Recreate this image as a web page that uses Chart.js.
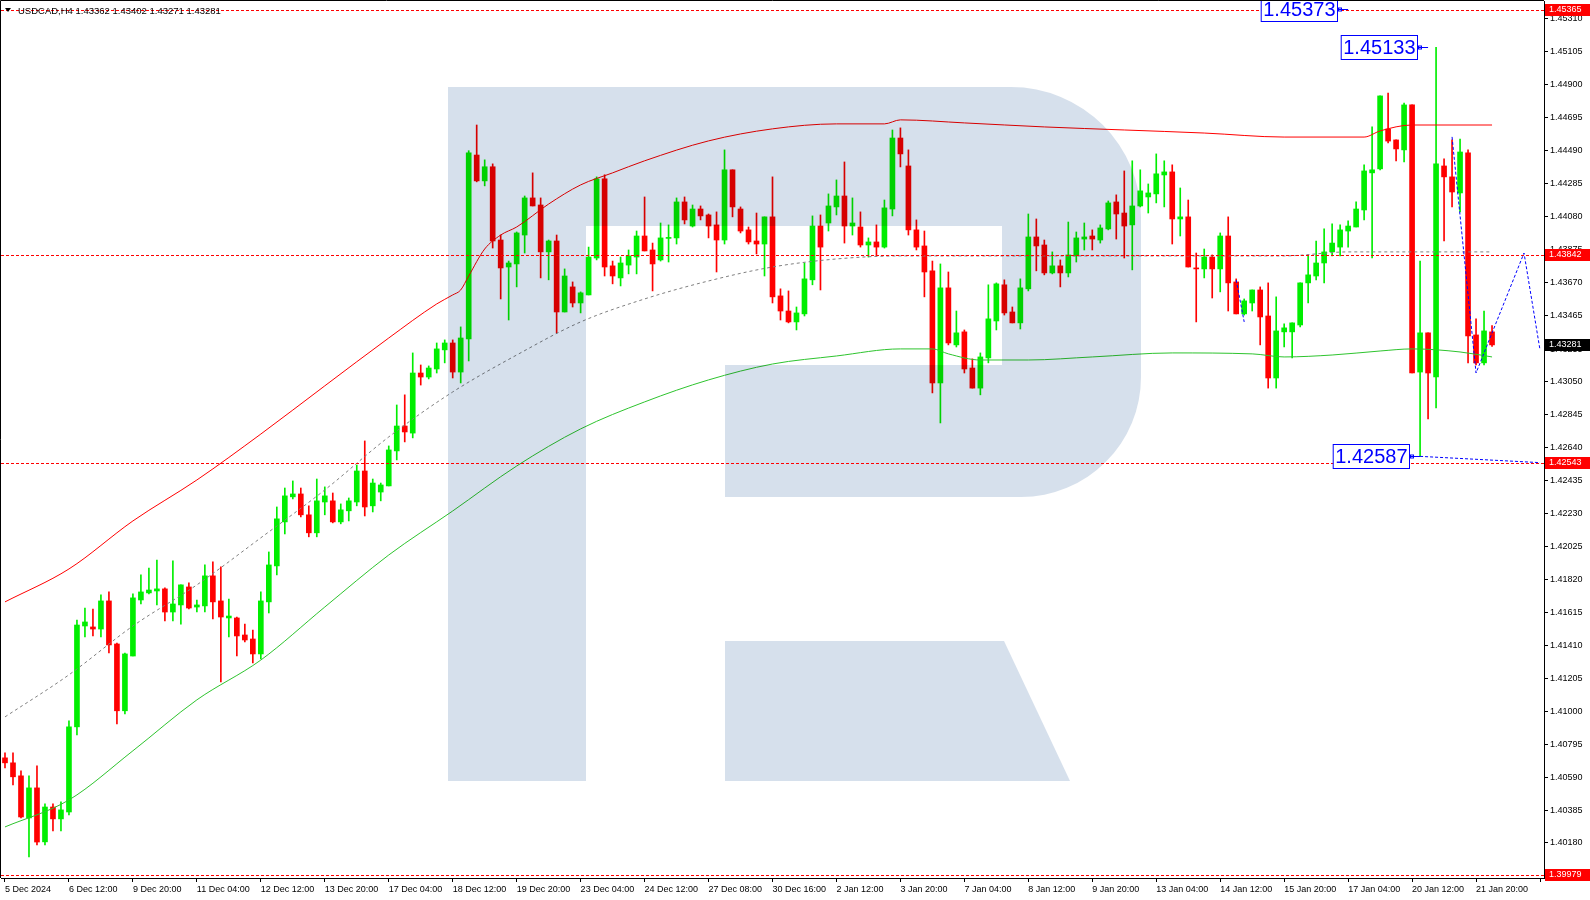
<!DOCTYPE html>
<html>
<head>
<meta charset="utf-8">
<script src="https://cdn.jsdelivr.net/npm/chart.js@4"></script>
<style>
  html, body { margin: 0; padding: 0; background: #fff; }
  canvas { display: block; }
</style>
</head>
<body>
<canvas id="myChart" width="1590" height="900"></canvas>
<script>
// USDCAD H4 – candles
var opens = [1.40710,1.40679,1.40598,1.40336,1.40523,1.40187,1.40404,1.40330,1.40373,1.40903,1.41531,1.41525,1.41512,1.41687,1.41419,1.41003,1.41344,1.41693,1.41737,1.41749,1.41762,1.41618,1.41662,1.41774,1.41649,1.41656,1.41843,1.41687,1.41581,1.41581,1.41475,1.41450,1.41357,1.41681,1.41905,1.42179,1.42335,1.42353,1.42223,1.42111,1.42303,1.42310,1.42179,1.42248,1.42303,1.42496,1.42279,1.42365,1.42403,1.42621,1.42776,1.42732,1.43106,1.43081,1.43131,1.43250,1.43293,1.43112,1.43318,1.44463,1.44302,1.44390,1.43934,1.43766,1.43785,1.43965,1.44196,1.44152,1.43860,1.43928,1.43486,1.43642,1.43542,1.43592,1.43822,1.44315,1.43773,1.43698,1.43778,1.43828,1.43959,1.43872,1.43810,1.43944,1.43947,1.44171,1.44021,1.44127,1.44090,1.44028,1.43934,1.44371,1.44127,1.43997,1.43928,1.43909,1.44078,1.43586,1.43492,1.43424,1.43474,1.43686,1.44021,1.44040,1.44140,1.44208,1.44021,1.44015,1.43903,1.43922,1.43890,1.44127,1.44569,1.44395,1.43997,1.43897,1.43742,1.43044,1.43636,1.43281,1.43362,1.43137,1.43012,1.43200,1.43430,1.43655,1.43486,1.43418,1.43630,1.43953,1.43903,1.43729,1.43773,1.43729,1.43835,1.43940,1.43959,1.43934,1.44003,1.44171,1.44102,1.44028,1.44146,1.44202,1.44221,1.44339,1.44358,1.44065,1.44078,1.43760,1.43754,1.43828,1.43754,1.43959,1.43673,1.43474,1.43542,1.43623,1.43461,1.43075,1.43362,1.43362,1.43405,1.43667,1.43710,1.43791,1.43860,1.43890,1.43990,1.44015,1.44121,1.44352,1.44377,1.44625,1.44557,1.44495,1.44775,1.43112,1.43356,1.43081,1.44395,1.44327,1.44227,1.44476,1.43343,1.43169,1.43362];
var highs = [1.40741,1.40741,1.40629,1.40598,1.40660,1.40423,1.40423,1.40436,1.40940,1.41568,1.41643,1.41637,1.41725,1.41743,1.41425,1.41363,1.41731,1.41849,1.41892,1.41942,1.41768,1.41936,1.41787,1.41799,1.41693,1.41911,1.41930,1.41899,1.41699,1.41587,1.41543,1.41506,1.41743,1.41992,1.42272,1.42390,1.42434,1.42390,1.42279,1.42446,1.42397,1.42359,1.42291,1.42328,1.42533,1.42683,1.42446,1.42421,1.42652,1.42907,1.42970,1.43231,1.43156,1.43150,1.43293,1.43312,1.43312,1.43393,1.44490,1.44650,1.44433,1.44408,1.43965,1.43803,1.43984,1.44208,1.44352,1.44196,1.43934,1.43965,1.43754,1.43673,1.43611,1.43890,1.44327,1.44340,1.43803,1.43828,1.43872,1.43990,1.44202,1.43915,1.44040,1.44028,1.44196,1.44202,1.44152,1.44146,1.44096,1.44109,1.44495,1.44371,1.44140,1.44015,1.44102,1.44078,1.44327,1.43630,1.43617,1.43517,1.43791,1.44084,1.44090,1.44221,1.44308,1.44420,1.44196,1.44109,1.43947,1.44028,1.44183,1.44619,1.44632,1.44495,1.44059,1.43990,1.43803,1.43785,1.43735,1.43492,1.43374,1.43194,1.43231,1.43655,1.43667,1.43686,1.43517,1.43692,1.44096,1.44065,1.43934,1.43860,1.43810,1.44046,1.43984,1.44040,1.43997,1.44028,1.44177,1.44215,1.44364,1.44427,1.44371,1.44283,1.44470,1.44427,1.44402,1.44258,1.44183,1.43853,1.43878,1.43841,1.43978,1.44078,1.43692,1.43567,1.43623,1.43642,1.43667,1.43580,1.43412,1.43418,1.43667,1.43835,1.43928,1.44003,1.44034,1.44028,1.44053,1.44171,1.44402,1.44638,1.44831,1.44849,1.44557,1.44787,1.44775,1.43803,1.43356,1.45133,1.44439,1.44557,1.44563,1.44495,1.43443,1.43492,1.43402];
var lows = [1.40648,1.40542,1.40336,1.40093,1.40168,1.40168,1.40255,1.40255,1.40355,1.40853,1.41463,1.41469,1.41463,1.41363,1.40922,1.40984,1.41344,1.41668,1.41731,1.41662,1.41562,1.41562,1.41543,1.41637,1.41618,1.41618,1.41575,1.41183,1.41463,1.41344,1.41432,1.41301,1.41326,1.41612,1.41849,1.42104,1.42322,1.42210,1.42086,1.42086,1.42223,1.42173,1.42167,1.42185,1.42279,1.42216,1.42241,1.42310,1.42403,1.42565,1.42677,1.42702,1.43031,1.43069,1.43106,1.43169,1.43075,1.43044,1.43181,1.44296,1.44271,1.43884,1.43567,1.43436,1.43642,1.43853,1.44146,1.43698,1.43686,1.43356,1.43486,1.43517,1.43480,1.43592,1.43810,1.43710,1.43661,1.43648,1.43723,1.43723,1.43866,1.43617,1.43803,1.43797,1.43909,1.44034,1.44015,1.44059,1.43947,1.43735,1.43909,1.44078,1.43978,1.43909,1.43847,1.43710,1.43542,1.43436,1.43418,1.43374,1.43461,1.43655,1.43623,1.43990,1.44090,1.43915,1.43965,1.43890,1.43828,1.43835,1.43884,1.44084,1.44389,1.43965,1.43872,1.43580,1.42982,1.42795,1.43281,1.43268,1.43106,1.43012,1.42970,1.43169,1.43374,1.43467,1.43418,1.43380,1.43617,1.43742,1.43717,1.43723,1.43642,1.43704,1.43797,1.43872,1.43872,1.43915,1.43997,1.43940,1.43822,1.43748,1.44140,1.44102,1.44165,1.44140,1.43909,1.43959,1.43766,1.43424,1.43698,1.43573,1.43611,1.43492,1.43474,1.43467,1.43492,1.43281,1.43012,1.43012,1.43268,1.43200,1.43393,1.43542,1.43686,1.43667,1.43835,1.43835,1.43890,1.44015,1.44059,1.43822,1.44371,1.44538,1.44427,1.44420,1.43106,1.42587,1.42820,1.42889,1.43928,1.44140,1.44109,1.43169,1.43156,1.43156,1.43271];
var closes = [1.40679,1.40592,1.40342,1.40523,1.40186,1.40404,1.40330,1.40386,1.40903,1.41537,1.41556,1.41512,1.41687,1.41413,1.41003,1.41357,1.41706,1.41743,1.41755,1.41762,1.41618,1.41668,1.41787,1.41643,1.41662,1.41843,1.41681,1.41587,1.41593,1.41469,1.41444,1.41357,1.41687,1.41911,1.42198,1.42341,1.42353,1.42223,1.42111,1.42310,1.42341,1.42179,1.42254,1.42310,1.42496,1.42272,1.42421,1.42409,1.42627,1.42776,1.42739,1.43106,1.43081,1.43137,1.43256,1.43293,1.43112,1.43324,1.44476,1.44302,1.44390,1.43928,1.43760,1.43791,1.43978,1.44196,1.44146,1.43860,1.43928,1.43486,1.43710,1.43542,1.43605,1.43828,1.44315,1.43766,1.43710,1.43791,1.43835,1.43959,1.43866,1.43785,1.43947,1.43950,1.44171,1.44059,1.44127,1.44084,1.44021,1.43934,1.44371,1.44140,1.43990,1.43922,1.43909,1.44078,1.43580,1.43492,1.43424,1.43480,1.43692,1.44021,1.43890,1.44146,1.44208,1.44021,1.44040,1.43903,1.43922,1.43890,1.44134,1.44569,1.44470,1.43997,1.43890,1.43735,1.43044,1.43636,1.43293,1.43356,1.43131,1.43012,1.43206,1.43443,1.43661,1.43480,1.43418,1.43636,1.43953,1.43897,1.43729,1.43773,1.43729,1.43841,1.43947,1.43953,1.43940,1.44009,1.44165,1.44096,1.44021,1.44146,1.44240,1.44227,1.44346,1.44358,1.44065,1.44078,1.43766,1.43754,1.43828,1.43754,1.43959,1.43667,1.43474,1.43555,1.43623,1.43455,1.43075,1.43368,1.43387,1.43418,1.43667,1.43717,1.43791,1.43860,1.43915,1.43997,1.44021,1.44127,1.44364,1.44371,1.44831,1.44550,1.44501,1.44775,1.43106,1.43356,1.43106,1.44408,1.44327,1.44233,1.44482,1.43337,1.43169,1.43368,1.43281];

// bar slots on the time axis (candles + empty space on the right)
var slotCount = 193;
var xTickLabels = ["5 Dec 2024","6 Dec 12:00","9 Dec 20:00","11 Dec 04:00","12 Dec 12:00","13 Dec 20:00","17 Dec 04:00","18 Dec 12:00","19 Dec 20:00","23 Dec 04:00","24 Dec 12:00","27 Dec 08:00","30 Dec 16:00","2 Jan 12:00","3 Jan 20:00","7 Jan 04:00","8 Jan 12:00","9 Jan 20:00","13 Jan 04:00","14 Jan 12:00","15 Jan 20:00","17 Jan 04:00","20 Jan 12:00","21 Jan 20:00"];
var yTicks = [1.40180,1.40385,1.40590,1.40795,1.41000,1.41205,1.41410,1.41615,1.41820,1.42025,1.42230,1.42435,1.42640,1.42845,1.43050,1.43255,1.43465,1.43670,1.43875,1.44080,1.44285,1.44490,1.44695,1.44900,1.45105,1.45310];

// moving averages (read every few bars)
var redMaBars = [0,8,16,24,32,40,48,54,56,57,58,60,62,64,68,72,76,80,88,96,104,110,112,120,130,140,150,160,170,172,176,186];
var redMaPrices = [1.41681,1.41886,1.42185,1.42440,1.42726,1.43026,1.43324,1.43536,1.43592,1.43623,1.43710,1.43878,1.43965,1.44015,1.44158,1.44277,1.44352,1.44427,1.44551,1.44626,1.44657,1.44657,1.44682,1.44663,1.44638,1.44619,1.44600,1.44575,1.44575,1.44613,1.44650,1.44650];
var greenMaBars = [0,8,16,24,32,40,48,56,64,72,80,88,96,104,112,116,118,122,128,136,146,156,160,166,172,176,182,186];
var greenMaPrices = [1.40280,1.40448,1.40754,1.41071,1.41319,1.41649,1.41973,1.42247,1.42527,1.42758,1.42926,1.43063,1.43162,1.43212,1.43256,1.43256,1.43225,1.43187,1.43187,1.43206,1.43231,1.43225,1.43206,1.43218,1.43243,1.43256,1.43237,1.43206];
var grayMaBars = [0,8,16,24,32,40,48,56,64,72,80,88,96,104,112,160,168,186];
var grayMaPrices = [1.40965,1.41227,1.41531,1.41787,1.42080,1.42378,1.42708,1.42988,1.43218,1.43424,1.43567,1.43679,1.43766,1.43816,1.43835,1.43835,1.43860,1.43860];

// blue forecast / swing lines
var forecastBars = [181,184,190,192];
var forecastPrices = [1.44576,1.43106,1.43853,1.43250];
var swingBars = [154,155];
var swingPrices = [1.43685,1.43424];
var targetBars = [177,192];
var targetPrices = [1.42587,1.42548];

// horizontal levels and notes
var levelPrices = [1.45365,1.43842,1.42543,1.39979];
var noteBars = [168,178,177];
var notePrices = [1.45373,1.45133,1.42587];

var BULL = '#00ee00';
var BEAR = '#ff0000';
var FONT = 'Liberation Sans';

function sparse(bars, vals) {
    var arr = new Array(slotCount).fill(null);
    bars.forEach(function (b, i) { arr[b] = vals[i]; });
    return arr;
}

var labels = Array.from({length: slotCount}, function (_, i) { return String(i); });
var bodies = opens.map(function (o, i) { return [o, closes[i]]; });
var wicks = lows.map(function (l, i) { return [l, highs[i]]; });

function candleColor(ctx) {
    var i = ctx.dataIndex;
    return closes[i] >= opens[i] ? BULL : BEAR;
}

// fond blanc + logo en filigrane + niveaux + notes
var decorPlugin = {
    id: 'decor',
    beforeDraw: function (chart) {
        var c = chart.ctx;
        c.save();
        c.fillStyle = '#fff';
        c.fillRect(0, 0, chart.width, chart.height);
        c.restore();
    },
    afterDatasetsDraw: function (chart) {
        var c = chart.ctx, a = chart.chartArea;
        var xs = chart.scales.x, ys = chart.scales.y;
        c.save();
        c.beginPath();
        c.rect(a.left, a.top, a.right - a.left, a.bottom - a.top);
        c.clip();

        // watermark "R"
        c.globalCompositeOperation = 'multiply';
        c.fillStyle = '#d6e0ec';
        c.beginPath();
        c.moveTo(448, 87);
        c.lineTo(1011, 87);
        c.arcTo(1141, 87, 1141, 217, 130);
        c.lineTo(1141, 377);
        c.arcTo(1141, 497, 1021, 497, 120);
        c.lineTo(725, 497);
        c.lineTo(725, 365);
        c.lineTo(1002, 365);
        c.lineTo(1002, 226);
        c.lineTo(586, 226);
        c.lineTo(586, 781);
        c.lineTo(448, 781);
        c.closePath();
        c.fill();
        c.beginPath();
        c.moveTo(725, 641);
        c.lineTo(1004, 641);
        c.lineTo(1070, 781);
        c.lineTo(725, 781);
        c.closePath();
        c.fill();
        c.globalCompositeOperation = 'source-over';

        // red dashed levels
        c.strokeStyle = '#ff0000';
        c.lineWidth = 1;
        c.setLineDash([3, 2]);
        levelPrices.forEach(function (p) {
            var y = Math.round(ys.getPixelForValue(p)) + 0.5;
            c.beginPath();
            c.moveTo(a.left, y);
            c.lineTo(a.right, y);
            c.stroke();
        });
        c.setLineDash([]);

        // blue price notes
        c.font = '20px ' + FONT;
        c.textBaseline = 'middle';
        c.textAlign = 'right';
        notePrices.forEach(function (p, i) {
            var y = Math.round(ys.getPixelForValue(p)) + 0.5;
            var xb = xs.getPixelForValue(noteBars[i]);
            var right = Math.round(xb - 11) + 0.5;
            var txt = p.toFixed(5);
            var w = c.measureText(txt).width;
            c.fillStyle = '#fff';
            c.fillRect(right - w - 4, y - 12, w + 4, 24);
            c.strokeStyle = '#0000ff';
            c.lineWidth = 1;
            c.strokeRect(right - w - 4, y - 12, w + 4, 24);
            c.fillStyle = '#0000ff';
            c.fillText(txt, right - 2, y + 1);
            c.beginPath();
            c.moveTo(right, y);
            c.lineTo(xb, y);
            c.stroke();
            c.strokeRect(right + 1, y - 1.5, 3, 3);
        });
        c.restore();
    },
    afterDraw: function (chart) {
        var c = chart.ctx, a = chart.chartArea, ys = chart.scales.y;
        c.save();
        // frame
        c.strokeStyle = '#000';
        c.lineWidth = 1;
        c.beginPath();
        c.moveTo(0.5, a.bottom);
        c.lineTo(0.5, 0.5);
        c.lineTo(a.right, 0.5);
        c.stroke();

        // axis price labels
        c.font = '9px ' + FONT;
        c.textBaseline = 'middle';
        c.textAlign = 'left';
        function tag(p, bg) {
            var y = Math.round(ys.getPixelForValue(p));
            c.fillStyle = bg;
            c.fillRect(a.right + 1, y - 6, chart.width - a.right - 1, 12);
            c.fillStyle = '#fff';
            c.fillText(p.toFixed(5), a.right + 5, y);
        }
        levelPrices.forEach(function (p) { tag(p, '#ff0000'); });
        tag(closes[closes.length - 1], '#000');

        // header
        c.fillStyle = '#000';
        c.beginPath();
        c.moveTo(5, 8);
        c.lineTo(11, 8);
        c.lineTo(8, 12);
        c.closePath();
        c.fill();
        c.font = '9.5px ' + FONT;
        var last = opens.length - 1;
        c.fillText('USDCAD,H4 ' + [opens[last], highs[last], lows[last], closes[last]].map(function (v) { return v.toFixed(5); }).join(' '), 18, 11);
        c.restore();
    }
};

function lineSet(data, color, dash, order, smooth) {
    return {
        type: 'line',
        data: data,
        borderColor: color,
        borderWidth: 1,
        borderDash: dash,
        pointRadius: 0,
        tension: smooth ? 0.4 : 0,
        cubicInterpolationMode: smooth ? 'monotone' : 'default',
        spanGaps: true,
        fill: false,
        order: order
    };
}

var config = {
    type: 'bar',
    data: {
        labels: labels,
        datasets: [
            {
                data: wicks,
                backgroundColor: candleColor,
                barThickness: 1,
                grouped: false,
                borderWidth: 0,
                order: 10
            },
            {
                data: bodies,
                backgroundColor: candleColor,
                barThickness: 5,
                minBarLength: 1,
                grouped: false,
                borderWidth: 0,
                order: 9
            },
            lineSet(sparse(grayMaBars, grayMaPrices), '#808080', [3, 3], 5, true),
            lineSet(sparse(redMaBars, redMaPrices), '#ff0000', [], 4, true),
            lineSet(sparse(greenMaBars, greenMaPrices), '#2ec42e', [], 4, true),
            lineSet(sparse(forecastBars, forecastPrices), '#0000ff', [3, 2], 1, false),
            lineSet(sparse(swingBars, swingPrices), '#0000ff', [3, 2], 1, false),
            lineSet(sparse(targetBars, targetPrices), '#0000ff', [3, 2], 1, false)
        ]
    },
    options: {
        responsive: false,
        animation: false,
        devicePixelRatio: 1,
        layout: { padding: { left: 1, top: 1, right: 0, bottom: 0 } },
        plugins: { legend: { display: false }, tooltip: { enabled: false } },
        scales: {
            x: {
                type: 'category',
                offset: true,
                grid: {
                    offset: false,
                    drawOnChartArea: false,
                    drawTicks: true,
                    tickLength: 4,
                    color: function (ctx) { return ctx.index % 8 === 0 ? '#000' : 'rgba(0,0,0,0)'; }
                },
                border: { display: true, color: '#000' },
                ticks: {
                    autoSkip: false,
                    maxRotation: 0,
                    minRotation: 0,
                    align: 'start',
                    padding: 2,
                    color: '#000',
                    font: { family: FONT, size: 9 },
                    callback: function (v, i) {
                        return i % 8 === 0 && xTickLabels[i / 8] ? xTickLabels[i / 8] : '';
                    }
                },
                afterFit: function (s) { s.height = 22; s.paddingLeft = 0; s.paddingRight = 0; }
            },
            y: {
                type: 'linear',
                position: 'right',
                min: 1.39962,
                max: 1.45422,
                grid: { drawOnChartArea: false, drawTicks: true, tickLength: 4, color: '#000' },
                border: { display: true, color: '#000' },
                ticks: {
                    padding: 2,
                    color: '#000',
                    font: { family: FONT, size: 9 },
                    callback: function (v) { return Number(v).toFixed(5); }
                },
                afterBuildTicks: function (s) {
                    s.ticks = yTicks.map(function (v) { return { value: v }; });
                },
                afterFit: function (s) { s.width = 46; s.paddingTop = 0; s.paddingBottom = 0; }
            }
        }
    },
    plugins: [decorPlugin]
};

var chart = new Chart(document.getElementById('myChart').getContext('2d'), config);
</script>
</body>
</html>
